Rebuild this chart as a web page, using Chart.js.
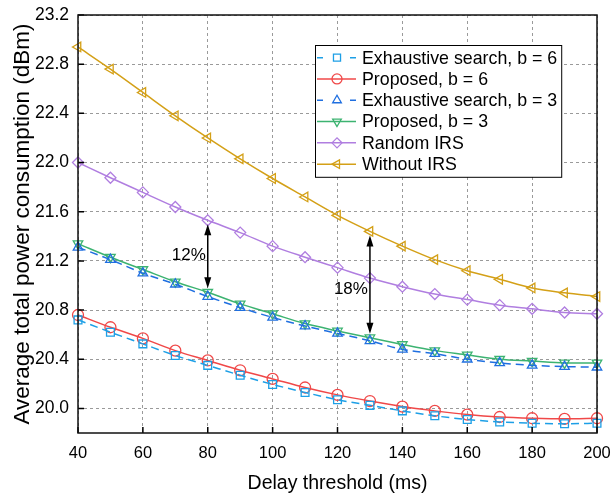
<!DOCTYPE html>
<html lang="en">
<head>
    <meta charset="UTF-8">
    <title>Average total power consumption vs delay threshold</title>
    <script src="https://cdn.jsdelivr.net/npm/chart.js"></script>
    <style>
        body {
            margin: 0;
            padding: 0;
            background: #fff;
        }
        #wrap {
            width: 614px;
            height: 493px;
        }
    </style>
</head>
<body>
    <div id="wrap"><canvas id="chart" width="614" height="493"></canvas></div>

    <script>
        // Data
        const delays = [40, 50, 60, 70, 80, 90, 100, 110, 120, 130, 140, 150, 160, 170, 180, 190, 200];
        const exhaustiveB6 = [20.72, 20.62, 20.525, 20.43, 20.35, 20.27, 20.195, 20.13, 20.07, 20.025, 19.98, 19.94, 19.91, 19.89, 19.88, 19.875, 19.88];
        const proposedB6 = [20.76, 20.66, 20.57, 20.47, 20.39, 20.31, 20.24, 20.17, 20.11, 20.06, 20.015, 19.98, 19.95, 19.93, 19.92, 19.915, 19.92];
        const exhaustiveB3 = [21.31, 21.21, 21.10, 21.01, 20.91, 20.82, 20.74, 20.67, 20.61, 20.55, 20.48, 20.445, 20.40, 20.37, 20.35, 20.34, 20.335];
        const proposedB3 = [21.34, 21.23, 21.13, 21.03, 20.945, 20.85, 20.77, 20.69, 20.63, 20.575, 20.52, 20.47, 20.435, 20.40, 20.385, 20.37, 20.37];
        const randomIRS = [22.00, 21.876, 21.757, 21.638, 21.53, 21.43, 21.32, 21.23, 21.145, 21.06, 20.99, 20.93, 20.885, 20.84, 20.81, 20.78, 20.77];
        const withoutIRS = [22.94, 22.76, 22.57, 22.38, 22.20, 22.03, 21.87, 21.72, 21.57, 21.44, 21.32, 21.21, 21.12, 21.05, 20.98, 20.94, 20.91];

        const xTicks = [40, 60, 80, 100, 120, 140, 160, 180, 200];
        const yTicks = [20.0, 20.4, 20.8, 21.2, 21.6, 22.0, 22.4, 22.8, 23.2];

        // Gap annotations: delay, upper series, lower series, label
        const gapDelays = [80, 130];
        const gapLabels = ['12%', '18%'];
        const gapUpper = [randomIRS, withoutIRS];
        const gapLower = [proposedB3, proposedB3];

        const FONT = '"Liberation Sans", Arial, Helvetica, sans-serif';
        Chart.defaults.font.family = FONT;
        Chart.defaults.color = '#000';

        function series(label, data, color, style, rotation, dashed) {
            return {
                label: label,
                data: data.map((v, i) => ({ x: delays[i], y: v })),
                borderColor: color,
                backgroundColor: 'rgba(0,0,0,0)',
                borderWidth: 1.5,
                borderDash: dashed ? [8, 5] : [],
                pointStyle: style,
                rotation: rotation,
                pointRadius: 5.5,
                pointBorderWidth: 1.3,
                pointBorderColor: color,
                pointBackgroundColor: 'rgba(0,0,0,0)',
                cubicInterpolationMode: 'monotone',
                clip: false,
                dashedLegend: dashed
            };
        }

        // Frame, inner tick marks, gap arrows and boxed legend
        const extras = {
            id: 'extras',
            afterDatasetsDraw(chart) {
                const ctx = chart.ctx;
                const a = chart.chartArea;
                const xs = chart.scales.x, ys = chart.scales.y;
                ctx.save();
                ctx.setLineDash([]);

                // inner ticks
                ctx.strokeStyle = '#000';
                ctx.lineWidth = 1.5;
                ctx.beginPath();
                xTicks.forEach(v => {
                    const px = xs.getPixelForValue(v);
                    ctx.moveTo(px, a.bottom);
                    ctx.lineTo(px, a.bottom - 6);
                });
                yTicks.forEach(v => {
                    const py = ys.getPixelForValue(v);
                    ctx.moveTo(a.left, py);
                    ctx.lineTo(a.left + 6, py);
                });
                ctx.stroke();

                // frame
                ctx.lineWidth = 1.5;
                ctx.strokeStyle = '#111';
                ctx.strokeRect(a.left, a.top, a.right - a.left, a.bottom - a.top);

                // arrows
                ctx.fillStyle = '#000';
                ctx.strokeStyle = '#000';
                ctx.lineWidth = 1.5;
                ctx.font = '17px ' + FONT;
                ctx.textAlign = 'right';
                ctx.textBaseline = 'middle';
                gapDelays.forEach((d, k) => {
                    const idx = delays.indexOf(d);
                    const px = xs.getPixelForValue(d);
                    const y1 = ys.getPixelForValue(gapUpper[k][idx]) + 4;
                    const y2 = ys.getPixelForValue(gapLower[k][idx]) - 4;
                    ctx.beginPath();
                    ctx.moveTo(px, y1 + 8);
                    ctx.lineTo(px, y2 - 8);
                    ctx.stroke();
                    ctx.beginPath();
                    ctx.moveTo(px, y1);
                    ctx.lineTo(px - 3.5, y1 + 11);
                    ctx.lineTo(px + 3.5, y1 + 11);
                    ctx.closePath();
                    ctx.fill();
                    ctx.beginPath();
                    ctx.moveTo(px, y2);
                    ctx.lineTo(px - 3.5, y2 - 11);
                    ctx.lineTo(px + 3.5, y2 - 11);
                    ctx.closePath();
                    ctx.fill();
                    ctx.fillText(gapLabels[k], px - 2, (y1 + y2) / 2 + (k === 0 ? -1 : 5));
                });

                // legend
                const sets = chart.data.datasets;
                const rowH = 21.3;
                const bx = a.right - 282, by = a.top + 30;
                ctx.font = '17.8px ' + FONT;
                let tw = 0;
                sets.forEach(s => { tw = Math.max(tw, ctx.measureText(s.label).width); });
                const bw = 47 + tw + 4;
                const bh = sets.length * rowH + 4;
                ctx.fillStyle = '#fff';
                ctx.fillRect(bx, by, bw, bh);
                ctx.strokeStyle = '#000';
                ctx.lineWidth = 1;
                ctx.strokeRect(bx + 0.5, by + 0.5, bw, bh);
                ctx.textAlign = 'left';
                sets.forEach((s, i) => {
                    const cy = by + 2 + rowH * (i + 0.5);
                    ctx.strokeStyle = s.borderColor;
                    ctx.lineWidth = 1.5;
                    ctx.setLineDash(s.dashedLegend ? [6, 27] : []);
                    ctx.beginPath();
                    ctx.moveTo(bx + 2, cy);
                    ctx.lineTo(bx + 41, cy);
                    ctx.stroke();
                    ctx.setLineDash([]);
                    ctx.lineWidth = s.pointBorderWidth;
                    ctx.fillStyle = 'rgba(0,0,0,0)';
                    Chart.helpers.drawPoint(ctx, {
                        pointStyle: s.pointStyle,
                        rotation: s.rotation,
                        radius: 5,
                        borderWidth: s.pointBorderWidth
                    }, bx + 22, cy);
                    ctx.fillStyle = '#000';
                    ctx.fillText(s.label, bx + 47, cy + 1);
                });
                ctx.restore();
            }
        };

        const ctx = document.getElementById('chart').getContext('2d');
        new Chart(ctx, {
            type: 'line',
            data: {
                datasets: [
                    series('Exhaustive search, b = 6', exhaustiveB6, '#1d9fe6', 'rect', 0, true),
                    series('Proposed, b = 6', proposedB6, '#f04848', 'circle', 0, false),
                    series('Exhaustive search, b = 3', exhaustiveB3, '#1f6fe0', 'triangle', 0, true),
                    series('Proposed, b = 3', proposedB3, '#3cb371', 'triangle', 180, false),
                    series('Random IRS', randomIRS, '#b07ee0', 'rectRot', 0, false),
                    series('Without IRS', withoutIRS, '#d4a017', 'triangle', -90, false)
                ]
            },
            options: {
                responsive: false,
                animation: false,
                layout: { padding: { top: 15, right: 17, left: 0, bottom: 0 } },
                plugins: {
                    legend: { display: false },
                    tooltip: { enabled: false }
                },
                scales: {
                    x: {
                        type: 'linear',
                        min: 40,
                        max: 200,
                        afterBuildTicks: s => { s.ticks = xTicks.map(v => ({ value: v })); },
                        afterFit: s => { s.height = 60; s.paddingLeft = 0; s.paddingRight = 0; },
                        grid: { color: '#9a9a9a', lineWidth: 1, drawTicks: false },
                        border: { display: false, dash: [3, 3] },
                        ticks: { padding: 11, font: { size: 16.5 }, color: '#000', maxRotation: 0 },
                        title: {
                            display: true,
                            text: 'Delay threshold (ms)',
                            font: { size: 19.5, lineHeight: 1 },
                            padding: { top: 0, bottom: 0 },
                            color: '#000'
                        }
                    },
                    y: {
                        type: 'linear',
                        min: 19.8,
                        max: 23.2,
                        afterBuildTicks: s => { s.ticks = yTicks.map(v => ({ value: v })); },
                        afterFit: s => { s.width = 78; s.paddingTop = 0; s.paddingBottom = 0; },
                        grid: { color: '#9a9a9a', lineWidth: 1, drawTicks: false },
                        border: { display: false, dash: [3, 3] },
                        ticks: {
                            padding: 9,
                            font: { size: 17.5 },
                            color: '#000',
                            callback: v => Number(v).toFixed(1)
                        },
                        title: {
                            display: true,
                            text: 'Average total power consumption (dBm)',
                            font: { size: 22.5, lineHeight: 1 },
                            padding: { top: 12, bottom: 0 },
                            color: '#000'
                        }
                    }
                }
            },
            plugins: [extras]
        });
    </script>
</body>
</html>
